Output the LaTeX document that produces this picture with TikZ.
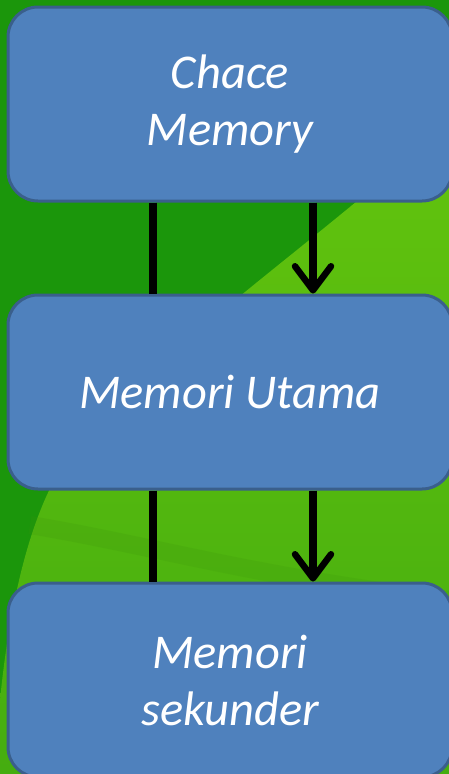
\documentclass[tikz,border=0pt]{standalone}
\usepackage{fontspec}
\usepackage{xcolor}
\usepackage{tikz}
\usetikzlibrary{arrows.meta, positioning, calc}
\newfontfamily\boxfont{Carlito}
\definecolor{bgdark}{HTML}{1B960B}
\definecolor{bglight}{HTML}{63C40E}
\definecolor{bglow}{HTML}{45AD10}
\definecolor{boxfill}{HTML}{4F81BD}
\definecolor{boxline}{HTML}{3A5F8C}

\begin{document}
\begin{tikzpicture}[x=1pt, y=-1pt,
    box/.style={draw=boxline, fill=boxfill, line width=3pt, rounded corners=30pt, minimum width=444pt, minimum height=194pt, align=center, text=white, font=\boxfont\itshape\fontsize{48.5}{57}\selectfont},
    link/.style={line width=8pt, black},
    arrow/.style={link, -{Straight Barb[length=24pt, width=36pt, line width=6.5pt, round]}}
]
    \useasboundingbox (0,0) rectangle (449,774);
    % background
    \fill[bgdark] (0,0) rectangle (449,774);
    \shade[top color=bglight, bottom color=bglow] (449,120) .. controls (330,235) and (150,350) .. (60,470)
        .. controls (30,520) and (10,600) .. (0,700) -- (0,774) -- (449,774) -- cycle;
    \draw[bglow!85!black, line width=18pt, opacity=.18] (30,525) .. controls (150,545) and (260,578) .. (449,600);

    \node[box] at (230,104) (cache) {Chace\\Memory};
    \node[box] at (230,392) (main) {Memori Utama};
    \node[box] at (230,680) (second) {Memori\\sekunder};

    \draw[link] ([xshift=-77pt]cache.south) -- ([xshift=-77pt]main.north);
    \draw[arrow] ([xshift=83pt]cache.south) -- ([xshift=83pt]main.north);
    \draw[link] ([xshift=-77pt]main.south) -- ([xshift=-77pt]second.north);
    \draw[arrow] ([xshift=83pt]main.south) -- ([xshift=83pt]second.north);
\end{tikzpicture}
\end{document}
